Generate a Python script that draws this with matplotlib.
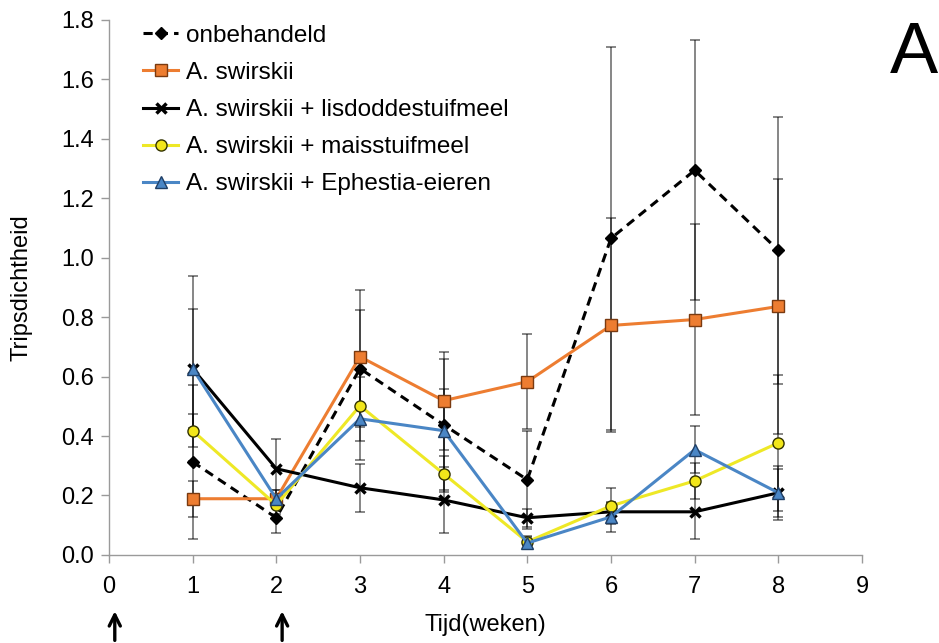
import matplotlib
matplotlib.use("Agg")
import matplotlib.pyplot as plt

plt.rcParams['font.family'] = ['Liberation Sans', 'DejaVu Sans']

weeks = [1, 2, 3, 4, 5, 6, 7, 8]

onbehandeld = [0.313, 0.125, 0.627, 0.438, 0.253, 1.065, 1.294, 1.025]
onbehandeld_err = [0.26, 0.05, 0.197, 0.22, 0.165, 0.645, 0.437, 0.45]

swirskii = [0.189, 0.189, 0.667, 0.519, 0.583, 0.772, 0.792, 0.836]
swirskii_err = [0.06, 0.03, 0.225, 0.165, 0.16, 0.36, 0.32, 0.43]

lisdodde = [0.627, 0.29, 0.226, 0.185, 0.125, 0.145, 0.145, 0.209]
lisdodde_err = [0.31, 0.10, 0.08, 0.11, 0.03, 0.03, 0.09, 0.08]

mais = [0.418, 0.168, 0.502, 0.273, 0.044, 0.165, 0.249, 0.377]
mais_err = [0.055, 0.03, 0.12, 0.06, 0.02, 0.06, 0.06, 0.23]

ephestia = [0.627, 0.189, 0.458, 0.418, 0.040, 0.128, 0.354, 0.209]
ephestia_err = [0.20, 0.03, 0.14, 0.14, 0.02, 0.05, 0.08, 0.09]

labels = ["onbehandeld", "A. swirskii", "A. swirskii + lisdoddestuifmeel",
          "A. swirskii + maisstuifmeel", "A. swirskii + Ephestia-eieren"]

xticks = list(range(0, 10))
yticks = [0.0, 0.2, 0.4, 0.6, 0.8, 1.0, 1.2, 1.4, 1.6, 1.8]
arrow_weeks = [0, 2]

fig = plt.figure(figsize=(9.39, 6.43), dpi=100)
ax = fig.add_axes([0.116, 0.137, 0.802, 0.832])

styles = [
    dict(color="black", ls=(0, (3.0, 2.0)), marker="D", ms=6.5, mfc="black", mec="black"),
    dict(color="#ED7D31", ls="-", marker="s", ms=8, mfc="#ED7D31", mec="#7a3a10"),
    dict(color="black", ls="-", marker="x", ms=7, mew=2.5, mfc="black", mec="black"),
    dict(color="#EEE826", ls="-", marker="o", ms=8, mfc="#F2E61A", mec="#333300"),
    dict(color="#4A86C5", ls="-", marker="^", ms=8, mfc="#4A86C5", mec="#1f3f66"),
]
series = [(onbehandeld, onbehandeld_err), (swirskii, swirskii_err),
          (lisdodde, lisdodde_err), (mais, mais_err), (ephestia, ephestia_err)]

for (vals, errs), st, lab in zip(series, styles, labels):
    ax.errorbar(weeks, vals, yerr=errs, fmt="none", ecolor=(0, 0, 0, 0.6),
                elinewidth=1.1, capsize=3.5, capthick=1.1, zorder=2)
    ax.plot(weeks, vals, lw=2.2, label=lab, zorder=3, **st)

ax.set_xlim(0, 9)
ax.set_ylim(0, 1.8)
ax.set_xticks(xticks)
ax.set_yticks(yticks)
ax.set_yticklabels([f"{v:.1f}" for v in yticks])

for side in ["top", "right"]:
    ax.spines[side].set_visible(False)
for side in ["left", "bottom"]:
    ax.spines[side].set_color("#9a9a9a")
    ax.spines[side].set_linewidth(1.0)
ax.tick_params(axis="both", direction="out", length=6, width=1.0, color="#9a9a9a",
               labelsize=17, labelcolor="black")
ax.tick_params(axis="x", pad=9)
ax.tick_params(axis="y", pad=5)

ax.set_xlabel("Tijd(weken)", fontsize=17, labelpad=12)
ax.set_ylabel("Tripsdichtheid", fontsize=17, labelpad=20)

leg = ax.legend(loc="upper left", bbox_to_anchor=(0.026, 1.018), frameon=False,
                fontsize=17.5, handlelength=1.45, handletextpad=0.3, labelspacing=0.62,
                borderaxespad=0.2)

# application moments marked below the time axis
for wk in arrow_weeks:
    ax.annotate("", xy=(wk + 0.07, -0.1), xytext=(wk + 0.07, -0.165),
                xycoords=ax.get_xaxis_transform(), textcoords=ax.get_xaxis_transform(),
                arrowprops=dict(arrowstyle="->", lw=2.4, color="black",
                                mutation_scale=20),
                annotation_clip=False)

fig.text(0.973, 0.916, "A", fontsize=52, ha="center", va="center")

fig.savefig("out.png", dpi=100)
